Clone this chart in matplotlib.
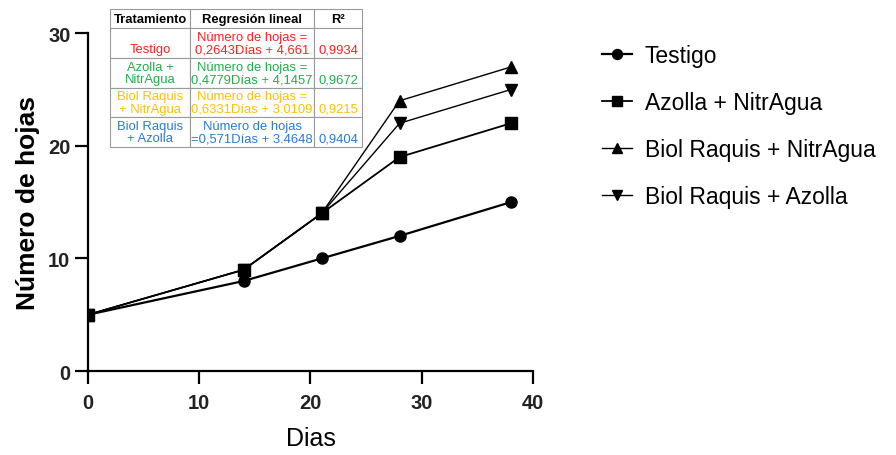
import matplotlib
matplotlib.use("Agg")
import matplotlib.pyplot as plt

plt.rcParams["font.family"] = ["Liberation Sans", "DejaVu Sans"]

# Data
dias = [0, 14, 21, 28, 38]
testigo = [5, 8, 10, 12, 15]
azolla_nitragua = [5, 9, 14, 19, 22]
biol_nitragua = [5, 9, 14, 24, 27]
biol_azolla = [5, 9, 14, 22, 25]

series_labels = ["Testigo", "Azolla + NitrAgua", "Biol Raquis + NitrAgua", "Biol Raquis + Azolla"]
series_markers = ["o", "s", "^", "v"]

table_header = ["Tratamiento", "Regresión lineal", "R²"]
table_trat = ["\nTestigo", "Azolla +\nNitrAgua", "Biol Raquis\n+ NitrAgua", "Biol Raquis\n+ Azolla"]
table_reg = [
    "Número de hojas =\n0,2643Días + 4,661",
    "Número de hojas =\n0,4779Días + 4,1457",
    "Número de hojas =\n0,6331Días + 3.0109",
    "Número de hojas\n=0,571Días + 3.4648",
]
table_r2 = ["\n0,9934", "\n0,9672", "\n0,9215", "\n0,9404"]
table_colors = ["#ff1f1f", "#1fae4a", "#ffc000", "#2a7bd0"]

fig = plt.figure(figsize=(8.96, 4.56), dpi=100)
ax = fig.add_axes([0.098, 0.184, 0.497, 0.741])

all_series = [testigo, azolla_nitragua, biol_nitragua, biol_azolla]
widths = [1.6, 1.3, 1.0, 1.0]
for ys, lab, mk, lw in zip(all_series, series_labels, series_markers, widths):
    ax.plot(dias, ys, color="black", marker=mk, markersize=8, linewidth=lw, label=lab)

ax.set_xlim(0, 40)
ax.set_ylim(0, 30)
ax.set_xticks([0, 10, 20, 30, 40])
ax.set_yticks([0, 10, 20, 30])
for s in ["top", "right"]:
    ax.spines[s].set_visible(False)
for s in ["left", "bottom"]:
    ax.spines[s].set_linewidth(1.6)
ax.tick_params(width=1.6, length=9.5, labelsize=14.5, labelcolor="#222222")
ax.tick_params(axis="x", pad=6)
ax.tick_params(axis="y", pad=3)
for t in ax.get_xticklabels() + ax.get_yticklabels():
    t.set_fontweight("bold")
ax.set_xlabel("Dias", fontsize=18, labelpad=10)
ax.set_ylabel("Número de hojas", fontsize=19, fontweight="bold", labelpad=6)

fig.legend(loc="upper left", bbox_to_anchor=(0.649, 0.947), frameon=False,
           fontsize=16.5, markerscale=0.9,
           handlelength=1.3, labelspacing=1.05, handletextpad=0.55)

# Regression table
tax = fig.add_axes([110 / 896, 1 - 148 / 456, 252 / 896, 138 / 456])
tax.axis("off")
cells = [[a, b, c] for a, b, c in zip(table_trat, table_reg, table_r2)]
tbl = tax.table(cellText=cells, colLabels=table_header, cellLoc="center",
                colWidths=[80, 124, 48], bbox=[0, 0, 1, 1])
tbl.auto_set_font_size(False)
tbl.set_fontsize(9.4)
for (r, c), cell in tbl.get_celld().items():
    cell.set_edgecolor("#9a9a9a")
    cell.set_linewidth(0.8)
    cell.PAD = 0.02
    if r == 0:
        cell.get_text().set_fontweight("bold")
        cell.set_height(0.14)
    else:
        cell.get_text().set_color(table_colors[r - 1])
        cell.set_height(0.215)
        cell.get_text().set_linespacing(1.05)

fig.savefig("out.png", dpi=100, facecolor="white")
